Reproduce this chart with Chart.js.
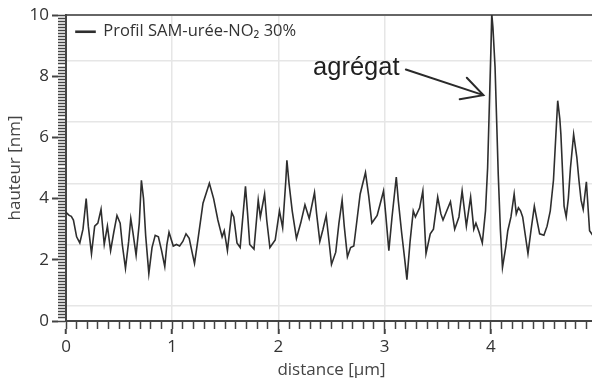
<!DOCTYPE html>
<html><head><meta charset="utf-8">
<script src="https://cdn.jsdelivr.net/npm/chart.js@4/dist/chart.umd.min.js"></script>
<style>html,body{margin:0;padding:0;overflow:hidden;background:#fff;width:592px;height:378px}#c{display:block}</style>
</head><body>
<canvas id="c" width="620" height="380"></canvas>
<script>
const distance = [0.00,0.03,0.05,0.07,0.10,0.13,0.16,0.19,0.21,0.24,0.27,0.30,0.33,0.36,0.39,0.42,0.45,0.48,0.51,0.53,0.56,0.59,0.61,0.63,0.66,0.69,0.71,0.73,0.75,0.78,0.81,0.84,0.87,0.90,0.93,0.95,0.97,1.01,1.04,1.07,1.10,1.13,1.16,1.19,1.21,1.24,1.29,1.35,1.39,1.43,1.47,1.49,1.52,1.56,1.58,1.61,1.64,1.66,1.69,1.71,1.73,1.77,1.81,1.83,1.87,1.89,1.92,1.97,2.01,2.04,2.07,2.08,2.10,2.13,2.17,2.21,2.25,2.29,2.34,2.36,2.39,2.42,2.45,2.48,2.50,2.54,2.57,2.60,2.62,2.65,2.68,2.71,2.74,2.77,2.82,2.85,2.88,2.93,2.99,3.01,3.04,3.07,3.11,3.13,3.16,3.19,3.21,3.24,3.27,3.29,3.33,3.36,3.39,3.43,3.46,3.50,3.53,3.55,3.62,3.66,3.70,3.73,3.77,3.81,3.84,3.86,3.89,3.92,3.95,3.97,3.99,4.01,4.02,4.04,4.07,4.09,4.11,4.14,4.16,4.19,4.22,4.24,4.26,4.28,4.30,4.35,4.38,4.41,4.44,4.46,4.50,4.53,4.56,4.59,4.63,4.65,4.66,4.69,4.71,4.73,4.75,4.78,4.81,4.83,4.85,4.87,4.90,4.93,4.96,5.00];
const hauteur = [3.55,3.45,3.42,3.30,2.75,2.55,3.00,4.00,3.10,2.20,3.10,3.20,3.65,2.50,3.10,2.30,2.90,3.45,3.20,2.50,1.72,2.60,3.35,2.90,2.15,3.20,4.60,4.00,2.80,1.55,2.40,2.80,2.75,2.30,1.78,2.50,2.90,2.45,2.50,2.45,2.60,2.85,2.70,2.20,1.88,2.60,3.85,4.50,4.00,3.30,2.75,2.95,2.30,3.55,3.40,2.55,2.40,3.20,4.40,3.50,2.50,2.35,3.95,3.40,4.15,3.30,2.40,2.65,3.60,3.05,4.60,5.25,4.50,3.60,2.70,3.20,3.80,3.35,4.20,3.50,2.60,3.00,3.45,2.50,1.85,2.25,3.20,3.95,3.10,2.10,2.40,2.45,3.30,4.15,4.85,4.10,3.20,3.45,4.25,3.50,2.30,3.40,4.70,3.90,2.90,2.00,1.35,2.60,3.60,3.40,3.70,4.25,2.20,2.85,3.00,4.05,3.50,3.30,3.90,3.00,3.40,4.25,3.10,4.05,3.00,3.20,2.90,2.55,3.60,5.00,7.50,10.00,9.60,8.30,4.80,3.00,1.75,2.40,2.95,3.40,4.15,3.50,3.70,3.60,3.40,2.20,3.00,3.75,3.20,2.85,2.80,3.10,3.60,4.60,7.20,6.60,6.10,3.75,3.40,4.00,5.00,6.10,5.35,4.60,3.95,3.65,4.55,2.95,2.80,2.90];
const seriesLabel = 'Profil SAM-urée-NO₂ 30%';
const xRange = [0, 5];
const yRange = [0, 10];
const xMajorStep = 1, xMinorStep = 0.1;
const yMajorStep = 2, yMinorStep = 0.1;
// horizontal grid lines of the reference sit half a unit above the labelled ticks
const yGridValues = [0.5, 2.5, 4.5, 6.5, 8.5];
const xTitle = 'distance [µm]';
const yTitle = 'hauteur [nm]';
// annotation anchors in data units
const annotText = 'agrégat';
const annotTextAt = [2.326, 8.04];
const annotArrowFrom = [3.20, 8.22];
const annotArrowTo = [3.93, 7.38];

const FONT = "'Open Sans', 'DejaVu Sans', sans-serif";
const points = distance.map((d, i) => ({x: d, y: hauteur[i]}));

const annotPlugin = {
  id: 'annot',
  afterDatasetsDraw(chart) {
    const {ctx, scales: {x, y}} = chart;
    ctx.save();
    ctx.font = "25.5px 'Liberation Sans', Arial, sans-serif";
    ctx.fillStyle = '#1e1e1e';
    ctx.textBaseline = 'alphabetic';
    ctx.fillText(annotText, x.getPixelForValue(annotTextAt[0]), y.getPixelForValue(annotTextAt[1]));
    const x1 = x.getPixelForValue(annotArrowFrom[0]), y1 = y.getPixelForValue(annotArrowFrom[1]);
    const x2 = x.getPixelForValue(annotArrowTo[0]), y2 = y.getPixelForValue(annotArrowTo[1]);
    const a = Math.atan2(y1 - y2, x1 - x2);
    const L = 24, da = 28 * Math.PI / 180;
    ctx.strokeStyle = '#2a2a2a';
    ctx.lineWidth = 2;
    ctx.lineCap = 'round';
    ctx.beginPath();
    ctx.moveTo(x1, y1); ctx.lineTo(x2, y2);
    ctx.moveTo(x2 + L * Math.cos(a - da), y2 + L * Math.sin(a - da));
    ctx.lineTo(x2, y2);
    ctx.lineTo(x2 + L * Math.cos(a + da), y2 + L * Math.sin(a + da));
    ctx.stroke();
    ctx.restore();
  }
};

new Chart(document.getElementById('c'), {
  type: 'line',
  data: {
    datasets: [{
      label: seriesLabel,
      data: points,
      borderColor: '#2e2e2e',
      backgroundColor: '#333',
      borderWidth: 1.6,
      pointRadius: 0,
      tension: 0
    }]
  },
  options: {
    responsive: false,
    animation: false,
    devicePixelRatio: 1,
    layout: {padding: {left: 5, top: 15, right: 23, bottom: 0}},
    plugins: {
      tooltip: {enabled: false},
      legend: {
        position: 'chartArea',
        align: 'start',
        title: {display: true, text: '', font: {size: 10}, padding: {top: 1.5, bottom: 0}},
        labels: {boxWidth: 19, boxHeight: 1, padding: 10, color: '#333', font: {family: FONT, size: 16.5}}
      }
    },
    scales: {
      x: {
        type: 'linear', position: 'bottom', weight: 1, min: xRange[0], max: xRange[1],
        ticks: {stepSize: xMajorStep, padding: 3, color: '#333', font: {family: FONT, size: 17}, maxRotation: 0},
        grid: {color: '#e6e6e6', lineWidth: 1.5, tickColor: '#444', tickWidth: 2, tickLength: 5},
        border: {display: false},
        title: {display: true, text: xTitle, color: '#444', font: {family: FONT, size: 17}, padding: {top: 0, bottom: 0}},
        afterFit(s) { s.height = 51; }
      },
      xm: {
        type: 'linear', position: 'bottom', weight: 0, min: xRange[0], max: xRange[1],
        ticks: {display: false, stepSize: xMinorStep},
        grid: {drawOnChartArea: false, tickLength: 8, tickColor: '#444', tickWidth: 1.5},
        border: {display: true, color: '#444', width: 2},
        afterFit(s) { s.height = 8; }
      },
      xt: {
        type: 'linear', position: 'top', min: xRange[0], max: xRange[1],
        ticks: {display: false},
        grid: {display: false, drawTicks: false},
        border: {display: true, color: '#666', width: 2},
        afterFit(s) { s.height = 0; }
      },
      y: {
        type: 'linear', position: 'left', weight: 1, min: yRange[0], max: yRange[1],
        ticks: {stepSize: yMajorStep, padding: 3, color: '#333', font: {family: FONT, size: 17}},
        grid: {drawOnChartArea: false, tickLength: 6, tickColor: '#444', tickWidth: 2},
        border: {display: false},
        title: {display: true, text: yTitle, color: '#444', font: {family: FONT, size: 17}, padding: {top: 0, bottom: 0}},
        afterFit(s) { s.width = 53; }
      },
      ym: {
        type: 'linear', position: 'left', weight: 0, min: yRange[0], max: yRange[1],
        ticks: {display: false, stepSize: yMinorStep},
        grid: {drawOnChartArea: false, tickLength: 8, tickColor: '#444', tickWidth: 1.5},
        border: {display: true, color: '#444', width: 2},
        afterFit(s) { s.width = 8; }
      },
      yg: {
        type: 'linear', position: 'right', min: yRange[0], max: yRange[1],
        ticks: {display: false},
        afterBuildTicks(s) { s.ticks = yGridValues.map(v => ({value: v})); },
        grid: {color: '#e6e6e6', lineWidth: 1.5, drawTicks: false},
        border: {display: false},
        afterFit(s) { s.width = 0; }
      }
    }
  },
  plugins: [annotPlugin]
});
</script>
</body></html>
